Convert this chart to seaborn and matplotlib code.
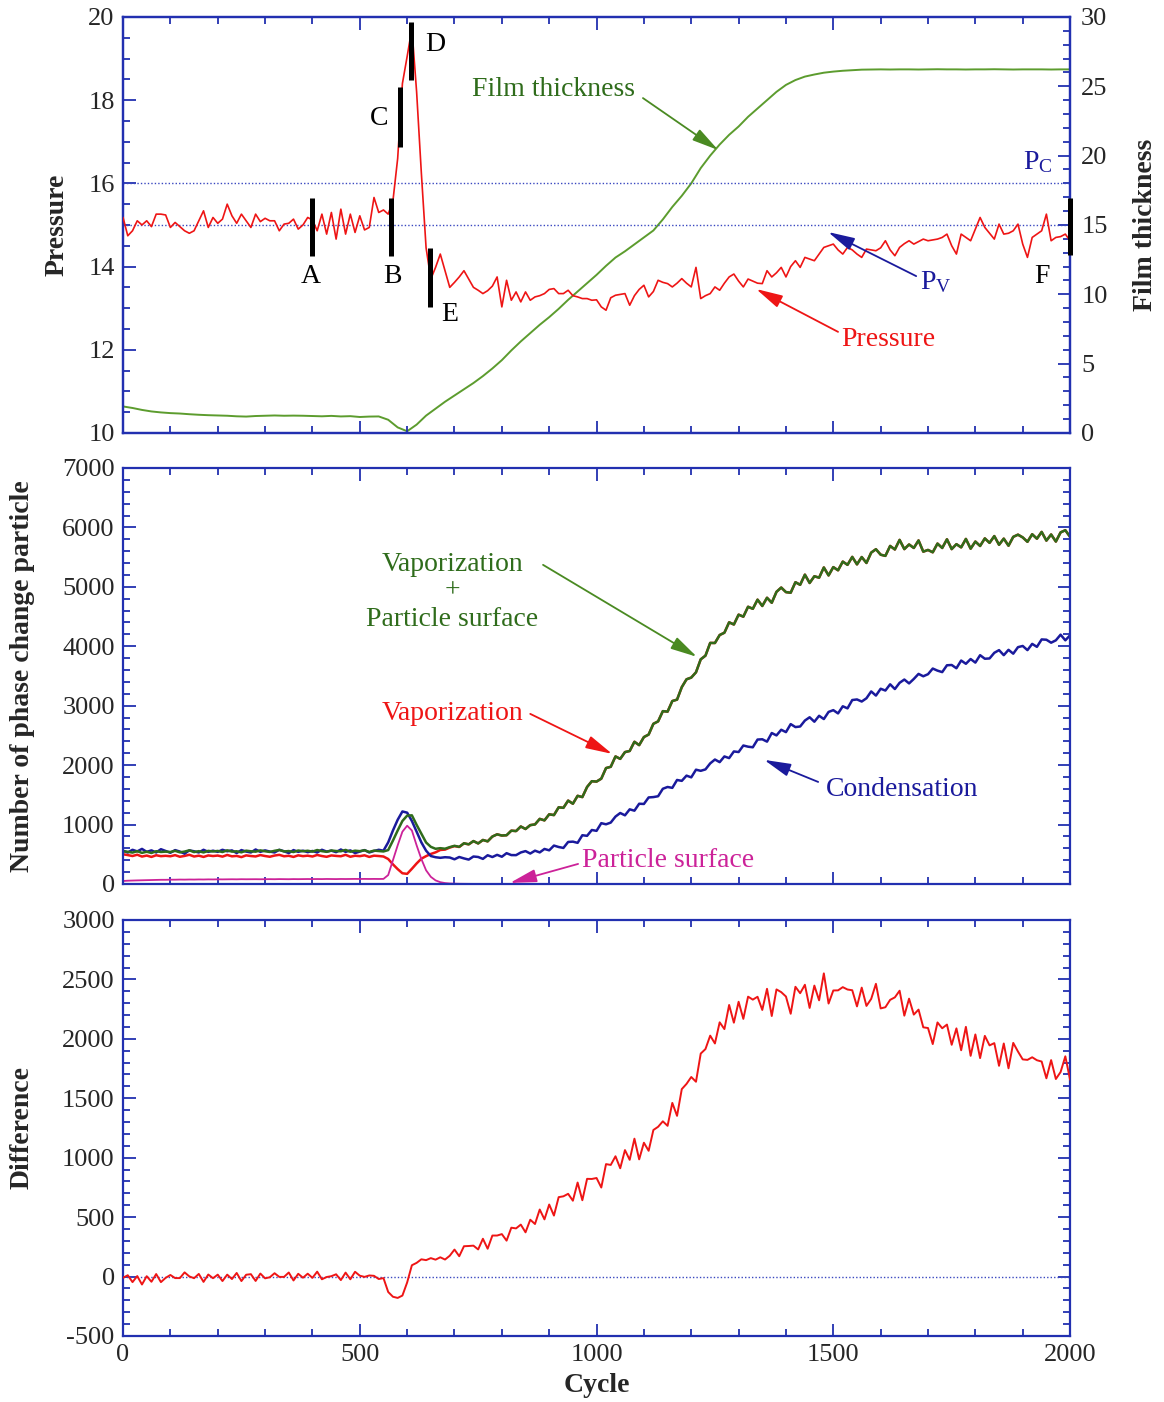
import numpy as np
import matplotlib
matplotlib.use("Agg")
import matplotlib.pyplot as plt
from matplotlib.ticker import MultipleLocator
import seaborn as sns

# ---------------------------------------------------------------- data
cycle_p = np.arange(0, 2001, 10)
pressure = [
    15.18, 14.74, 14.86, 15.10, 15.00, 15.10, 14.96, 15.26, 15.26, 15.24,
    14.94, 15.06, 14.96, 14.86, 14.80, 14.86, 15.10, 15.34, 14.94, 15.18,
    15.04, 15.14, 15.50, 15.22, 15.04, 15.26, 15.10, 14.94, 15.26, 15.08,
    15.16, 15.10, 15.10, 14.86, 15.02, 15.04, 15.14, 14.90, 15.00, 15.18,
    15.12, 14.86, 15.26, 14.78, 15.30, 14.66, 15.38, 14.78, 15.26, 14.82,
    15.22, 14.88, 14.94, 15.66, 15.30, 15.36, 15.26, 15.58, 16.60, 18.40,
    19.05, 19.72, 18.20, 16.25, 14.45, 13.70, 13.98, 14.30, 13.90, 13.50,
    13.62, 13.75, 13.90, 13.70, 13.50, 13.43, 13.35, 13.42, 13.53, 13.75,
    13.03, 13.67, 13.19, 13.39, 13.15, 13.39, 13.19, 13.27, 13.30, 13.35,
    13.45, 13.47, 13.35, 13.35, 13.43, 13.30, 13.27, 13.23, 13.23, 13.19,
    13.20, 13.03, 12.95, 13.25, 13.31, 13.33, 13.35, 13.07, 13.30, 13.45,
    13.55, 13.27, 13.40, 13.67, 13.62, 13.59, 13.51, 13.60, 13.71, 13.60,
    13.51, 13.98, 13.23, 13.30, 13.35, 13.51, 13.43, 13.60, 13.75, 13.82,
    13.65, 13.51, 13.70, 13.65, 13.60, 13.59, 13.90, 13.75, 13.85, 13.98,
    13.75, 14.00, 14.14, 13.98, 14.22, 14.18, 14.14, 14.30, 14.46, 14.50,
    14.54, 14.40, 14.30, 14.46, 14.40, 14.30, 14.22, 14.42, 14.40, 14.38,
    14.45, 14.62, 14.40, 14.26, 14.46, 14.55, 14.62, 14.54, 14.60, 14.66,
    14.62, 14.64, 14.66, 14.70, 14.78, 14.50, 14.30, 14.78, 14.70, 14.62,
    14.90, 15.18, 14.94, 14.80, 14.66, 15.02, 14.78, 14.80, 14.86, 15.02,
    14.54, 14.22, 14.70, 14.78, 14.86, 15.26, 14.62, 14.70, 14.72, 14.78,
    14.62,
]

cycle_f = np.arange(0, 2001, 20)
film_thickness = [
    1.91, 1.80, 1.66, 1.55, 1.48, 1.43, 1.40, 1.35, 1.31, 1.28,
    1.26, 1.24, 1.20, 1.18, 1.22, 1.24, 1.26, 1.24, 1.25, 1.24,
    1.22, 1.20, 1.23, 1.19, 1.21, 1.15, 1.18, 1.19, 0.95, 0.40,
    0.12, 0.60, 1.25, 1.75, 2.25, 2.70, 3.15, 3.60, 4.10, 4.65,
    5.25, 5.95, 6.60, 7.20, 7.80, 8.35, 8.95, 9.60, 10.20, 10.80,
    11.40, 12.05, 12.65, 13.10, 13.60, 14.10, 14.60, 15.40, 16.30, 17.10,
    18.00, 19.10, 20.00, 20.80, 21.50, 22.10, 22.80, 23.40, 24.00, 24.60,
    25.10, 25.45, 25.70, 25.85, 25.98, 26.06, 26.12, 26.16, 26.20, 26.21,
    26.22, 26.21, 26.22, 26.22, 26.21, 26.22, 26.23, 26.22, 26.22, 26.21,
    26.22, 26.22, 26.23, 26.22, 26.21, 26.22, 26.22, 26.22, 26.21, 26.22,
    26.22,
]

cycle_n = np.arange(0, 2001, 10)
vaporization = [
    500, 486, 470, 492, 461, 478, 455, 483, 468, 474,
    466, 485, 458, 472, 491, 462, 476, 455, 480, 470,
    478, 460, 488, 465, 472, 452, 481, 470, 463, 486,
    470, 458, 478, 490, 466, 474, 455, 482, 468, 476,
    462, 488, 470, 457, 480, 472, 466, 490, 458, 475,
    468, 482, 455, 476, 470, 462, 420, 330, 250, 180,
    170, 255, 345, 425, 468, 505, 532, 572, 578, 612,
    637, 622, 683, 666, 721, 682, 740, 717, 798, 835,
    815, 820, 897, 890, 967, 925, 990, 1002, 1095, 1070,
    1172, 1159, 1290, 1281, 1403, 1350, 1483, 1462, 1632, 1729,
    1723, 1772, 1950, 1972, 2146, 2105, 2219, 2238, 2393, 2336,
    2472, 2514, 2695, 2736, 2908, 2900, 3078, 3102, 3312, 3444,
    3473, 3562, 3780, 3842, 4056, 4055, 4189, 4228, 4403, 4366,
    4532, 4498, 4665, 4630, 4784, 4678, 4816, 4732, 4916, 4988,
    4911, 4901, 5078, 5034, 5205, 5065, 5178, 5154, 5326, 5192,
    5332, 5278, 5425, 5370, 5504, 5378, 5501, 5402, 5576, 5633,
    5541, 5521, 5688, 5629, 5790, 5635, 5713, 5654, 5781, 5592,
    5621, 5581, 5728, 5654, 5800, 5635, 5718, 5664, 5806, 5642,
    5762, 5688, 5815, 5740, 5854, 5708, 5811, 5692, 5841, 5878,
    5832, 5758, 5885, 5810, 5924, 5778, 5881, 5762, 5916, 5953,
    5841,
]
particle_surface = [
    50, 55, 58, 60, 62, 65, 66, 68, 70, 70,
    72, 72, 74, 73, 75, 74, 76, 75, 77, 76,
    78, 77, 78, 79, 78, 80, 79, 80, 80, 79,
    80, 81, 80, 82, 81, 80, 82, 81, 82, 83,
    82, 83, 82, 84, 83, 82, 84, 83, 84, 85,
    84, 85, 84, 85, 84, 85, 150, 400, 650, 880,
    980, 900, 650, 420, 230, 120, 60, 30, 15, 8,
    5, 3, 2, 1, 1, 0, 0, 0, 0, 0,
    0, 0, 0, 0, 0, 0, 0, 0, 0, 0,
    0, 0, 0, 0, 0, 0, 0, 0, 0, 0,
    0, 0, 0, 0, 0, 0, 0, 0, 0, 0,
    0, 0, 0, 0, 0, 0, 0, 0, 0, 0,
    0, 0, 0, 0, 0, 0, 0, 0, 0, 0,
    0, 0, 0, 0, 0, 0, 0, 0, 0, 0,
    0, 0, 0, 0, 0, 0, 0, 0, 0, 0,
    0, 0, 0, 0, 0, 0, 0, 0, 0, 0,
    0, 0, 0, 0, 0, 0, 0, 0, 0, 0,
    0, 0, 0, 0, 0, 0, 0, 0, 0, 0,
    0, 0, 0, 0, 0, 0, 0, 0, 0, 0,
    0, 0, 0, 0, 0, 0, 0, 0, 0, 0,
    0,
]
condensation = [
    560, 530, 575, 548, 590, 540, 565, 530, 585, 555,
    525, 570, 545, 510, 565, 550, 530, 575, 540, 560,
    540, 575, 550, 565, 520, 570, 545, 530, 580, 540,
    565, 545, 530, 575, 550, 520, 570, 540, 560, 535,
    555, 530, 575, 545, 560, 535, 580, 540, 565, 520,
    545, 570, 530, 555, 575, 560, 700, 900, 1080, 1220,
    1200, 1060, 880, 700, 560, 470, 450, 440, 450, 445,
    415, 454, 430, 410, 462, 454, 422, 483, 453, 490,
    458, 518, 486, 485, 530, 553, 512, 560, 531, 589,
    566, 646, 622, 606, 707, 712, 692, 820, 810, 908,
    894, 1023, 1004, 1033, 1134, 1194, 1155, 1256, 1233, 1350,
    1346, 1456, 1462, 1476, 1602, 1632, 1617, 1750, 1735, 1823,
    1794, 1923, 1904, 1928, 2029, 2094, 2050, 2146, 2118, 2230,
    2220, 2330, 2310, 2300, 2430, 2435, 2395, 2540, 2500, 2595,
    2555, 2690, 2640, 2650, 2750, 2805, 2730, 2830, 2775, 2895,
    2925, 2870, 2990, 2955, 3095, 3105, 3070, 3125, 3240, 3170,
    3285, 3255, 3360, 3280, 3385, 3440, 3375, 3450, 3535, 3495,
    3530, 3625, 3590, 3565, 3680, 3685, 3630, 3760, 3705, 3785,
    3725, 3850, 3790, 3795, 3890, 3935, 3850, 3940, 3875, 3985,
    4005, 3935, 4040, 3990, 4115, 4110, 4060, 4100, 4195, 4100,
    4185,
]

# stage markers on the pressure trace: label, cycle, lower, upper
stage_marks = [
    ("A", 400, 14.25, 15.65),
    ("B", 565, 14.25, 15.65),
    ("C", 585, 16.88, 18.32),
    ("D", 609, 18.48, 19.88),
    ("E", 648, 13.03, 14.45),
    ("F", 2000, 14.28, 15.65),
]
stage_label_pos = {
    "A": (397, 13.77), "B": (568, 13.77), "C": (541, 17.57),
    "D": (659, 19.33), "E": (690, 12.84), "F": (1941, 13.77),
}

vap_plus_surface = np.add(vaporization, particle_surface)
difference = vap_plus_surface - np.asarray(condensation)

# ---------------------------------------------------------------- style
sns.set_style("ticks")
plt.rcParams["font.family"] = ["Liberation Serif", "DejaVu Serif"]
plt.rcParams["mathtext.fontset"] = "custom"
plt.rcParams["mathtext.rm"] = "Liberation Serif"
plt.rcParams["mathtext.it"] = "Liberation Serif:italic"
plt.rcParams["axes.unicode_minus"] = False

SPINE = "#2230b0"
RED = "#ee1515"
FILM_GREEN = "#5c9c2e"
GREEN = "#2f6c1b"
BLUE = "#1a1a9c"
MAGENTA = "#cc2299"
DOT = "#3a48c0"
TICK_FS = 19
LABEL_FS = 20

fig = plt.figure(figsize=(11.64, 14.02), dpi=100)
ax_p = fig.add_axes([0.1057, 0.6912, 0.8136, 0.2967])
ax_n = fig.add_axes([0.1057, 0.3695, 0.8136, 0.2967])
ax_d = fig.add_axes([0.1057, 0.0471, 0.8136, 0.2967])


def style_axes(ax, ymaj, ymin, right=True):
    ax.set_xlim(0, 2000)
    ax.xaxis.set_major_locator(MultipleLocator(500))
    ax.xaxis.set_minor_locator(MultipleLocator(100))
    ax.yaxis.set_major_locator(MultipleLocator(ymaj))
    ax.yaxis.set_minor_locator(MultipleLocator(ymin))
    ax.tick_params(which="both", direction="in", top=True, right=right,
                   color=SPINE, width=1.3, labelsize=TICK_FS, pad=6)
    ax.tick_params(which="major", length=9)
    ax.tick_params(which="minor", length=5)
    for s in ax.spines.values():
        s.set_color(SPINE)
        s.set_linewidth(1.6)
        s.set_visible(True)


def arrow(ax, tail, head, color):
    ax.annotate("", xy=head, xytext=tail,
                arrowprops=dict(arrowstyle="-|>,head_length=0.9,head_width=0.22",
                                color=color, lw=1.3, shrinkA=0, shrinkB=0,
                                mutation_scale=18))


# ---------------------------------------------------------------- top: pressure + film thickness
ax_f = ax_p.twinx()
style_axes(ax_p, 2, 0.5, right=False)
ax_p.set_ylim(10, 20)
ax_p.tick_params(labelbottom=False)
ax_p.axhline(16, color=DOT, lw=1.0, ls=(0, (1, 1.5)), zorder=1)
ax_p.axhline(15, color=DOT, lw=1.0, ls=(0, (1, 1.5)), zorder=1)

ax_f.set_ylim(0, 30)
ax_f.yaxis.set_major_locator(MultipleLocator(5))
ax_f.yaxis.set_minor_locator(MultipleLocator(1))
ax_f.tick_params(which="both", direction="in", color=SPINE, width=1.3,
                 labelsize=TICK_FS, pad=8)
ax_f.tick_params(which="major", length=9)
ax_f.tick_params(which="minor", length=5)
for s in ax_f.spines.values():
    s.set_color(SPINE)
    s.set_linewidth(1.6)

sns.lineplot(x=cycle_f, y=film_thickness, ax=ax_f, color=FILM_GREEN,
             linewidth=1.4, estimator=None, legend=False)
sns.lineplot(x=cycle_p, y=pressure, ax=ax_p, color=RED, linewidth=1.2,
             estimator=None, legend=False, zorder=3)
ax_p.set_zorder(ax_f.get_zorder() + 1)
ax_p.patch.set_visible(False)

for lab, cx, lo, hi in stage_marks:
    ax_p.vlines(cx, lo, hi, color="black", lw=3.6, zorder=5, clip_on=False)
    tx, ty = stage_label_pos[lab]
    ax_p.text(tx, ty, lab, fontsize=LABEL_FS, ha="center", va="center", color="black")

ax_p.text(910, 18.25, "Film thickness", color=GREEN, fontsize=LABEL_FS, ha="center", va="center")
arrow(ax_p, (1098, 18.05), (1257, 16.8), "#4a8a22")
ax_p.text(1616, 12.24, "Pressure", color=RED, fontsize=LABEL_FS, ha="center", va="center")
arrow(ax_p, (1510, 12.43), (1337, 13.46), RED)
ax_p.text(1716, 13.62, r"P$_\mathregular{V}$", color=BLUE, fontsize=LABEL_FS, ha="center", va="center")
arrow(ax_p, (1675, 13.77), (1489, 14.83), BLUE)
ax_p.text(1932, 16.52, r"P$_\mathregular{C}$", color=BLUE, fontsize=LABEL_FS, ha="center", va="center")

ax_p.set_ylabel("Pressure", fontsize=LABEL_FS, fontweight="bold")
ax_p.yaxis.set_label_coords(-0.056, 0.5)
ax_f.set_ylabel("Film thickness", fontsize=LABEL_FS, fontweight="bold")
ax_f.yaxis.set_label_coords(1.066, 0.5)

# ---------------------------------------------------------------- middle: phase change particle counts
style_axes(ax_n, 1000, 200)
ax_n.set_ylim(0, 7000)
ax_n.tick_params(labelbottom=False)
sns.lineplot(x=cycle_n, y=vaporization, ax=ax_n, color=RED, linewidth=1.8,
             estimator=None, legend=False)
sns.lineplot(x=cycle_n, y=condensation, ax=ax_n, color=BLUE, linewidth=1.8,
             estimator=None, legend=False)
sns.lineplot(x=cycle_n, y=vap_plus_surface, ax=ax_n, color=GREEN, linewidth=1.8,
             estimator=None, legend=False)
sns.lineplot(x=cycle_n, y=particle_surface, ax=ax_n, color=MAGENTA, linewidth=1.3,
             estimator=None, legend=False)

ax_n.text(695, 5370, "Vaporization", color=GREEN, fontsize=LABEL_FS, ha="center", va="center")
ax_n.text(695, 4933, "+", color=GREEN, fontsize=LABEL_FS, ha="center", va="center")
ax_n.text(695, 4444, "Particle surface", color=GREEN, fontsize=LABEL_FS, ha="center", va="center")
arrow(ax_n, (887, 5370), (1212, 3822), "#4a8a22")
ax_n.text(695, 2862, "Vaporization", color=RED, fontsize=LABEL_FS, ha="center", va="center")
arrow(ax_n, (860, 2862), (1033, 2189), RED)
ax_n.text(1645, 1582, "Condensation", color=BLUE, fontsize=LABEL_FS, ha="center", va="center")
arrow(ax_n, (1468, 1717), (1354, 2088), BLUE)
ax_n.text(1151, 387, "Particle surface", color=MAGENTA, fontsize=LABEL_FS, ha="center", va="center")
arrow(ax_n, (961, 337), (817, 17), MAGENTA)

ax_n.set_ylabel("Number of phase change particle", fontsize=LABEL_FS, fontweight="bold")
ax_n.yaxis.set_label_coords(-0.093, 0.5)

# ---------------------------------------------------------------- bottom: difference
style_axes(ax_d, 500, 100)
ax_d.set_ylim(-500, 3000)
ax_d.axhline(0, color=DOT, lw=1.0, ls=(0, (1, 1.5)), zorder=1)
sns.lineplot(x=cycle_n, y=difference, ax=ax_d, color=RED, linewidth=1.4,
             estimator=None, legend=False, zorder=3)
ax_d.set_ylabel("Difference", fontsize=LABEL_FS, fontweight="bold")
ax_d.yaxis.set_label_coords(-0.093, 0.5)
ax_d.set_xlabel("Cycle", fontsize=LABEL_FS, fontweight="bold", labelpad=0)
ax_d.xaxis.set_label_coords(0.5, -0.089)

fig.savefig("out.png", dpi=100)
